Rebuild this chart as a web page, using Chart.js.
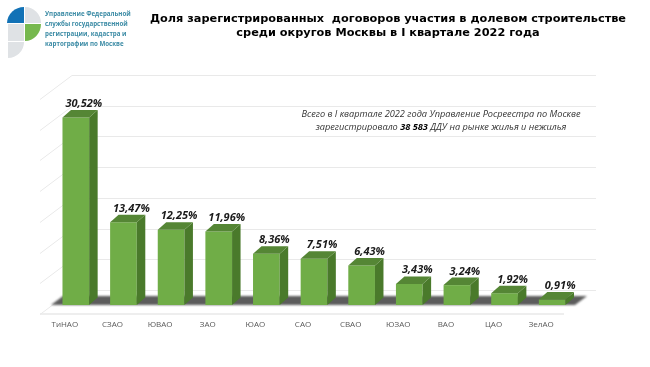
<!DOCTYPE html>
<html lang="ru">
<head>
  <meta charset="UTF-8">
  <title>Доля ДДУ по округам Москвы</title>
  <script src="https://cdn.jsdelivr.net/npm/chart.js"></script>
  <style>
    html, body { margin: 0; padding: 0; background: #fff; }
    #wrap { position: relative; width: 650px; height: 367px; overflow: hidden; }
    #wrap canvas { position: absolute; left: 0; top: 0; }
    .title {
      position: absolute; left: 130px; top: 12px; width: 516px; text-align: center;
      font: bold 11.3px/14px "DejaVu Sans", sans-serif; color: #000;
    }
    .org {
      position: absolute; left: 45px; top: 9px;
      font: bold 6.2px/10px "Open Sans", sans-serif; color: #3b8ba5; white-space: nowrap;
    }
    .note {
      position: absolute; left: 280px; top: 108px; width: 322px; text-align: center;
      font: italic 9.2px/12.5px "Open Sans", sans-serif; color: #333;
    }
    .note b { color: #000; }
    .logo { position: absolute; left: 0; top: 0; }
  </style>
</head>
<body>
  <div id="wrap">
    <canvas id="chart" width="650" height="367"></canvas>

    <!-- логотип -->
    <svg class="logo" width="44" height="62">
      <path d="M24 7 A17 17 0 0 0 7 23 L24 23 Z" fill="#1272b6"/>
      <path d="M25 7 A16 16 0 0 1 41 23 L25 23 Z" fill="#dfe2e5"/>
      <rect x="8" y="24" width="16" height="17" fill="#dfe2e5"/>
      <path d="M25 24 L41 24 A16 17 0 0 1 25 41 Z" fill="#76b84e"/>
      <path d="M8 42 L24 42 A16 16 0 0 1 8 58 Z" fill="#dfe2e5"/>
    </svg>
    <div class="org">Управление Федеральной<br>службы государственной<br>регистрации, кадастра и<br>картографии по Москве</div>

    <div class="title">Доля зарегистрированных&nbsp; договоров участия в долевом строительстве<br>среди округов Москвы в I квартале 2022 года</div>
    <div class="note">Всего в I квартале 2022 года Управление Росреестра по Москве<br>зарегистрировало <b>38 583</b> ДДУ на рынке жилья и нежилья</div>
  </div>

  <script>
    const categories = ['ТиНАО', 'СЗАО', 'ЮВАО', 'ЗАО', 'ЮАО', 'САО', 'СВАО', 'ЮЗАО', 'ВАО', 'ЦАО', 'ЗелАО'];
    const shares = [30.52, 13.47, 12.25, 11.96, 8.36, 7.51, 6.43, 3.43, 3.24, 1.92, 0.91];

    // сдвиги плоскостей псевдо-3D относительно плоскости столбцов
    const backShift = { x: 20, y: -15 };
    const frontShift = { x: -12, y: 9 };
    const barDepth = { x: 8.5, y: -7.5 };

    function poly(ctx, pts, fill) {
      ctx.beginPath();
      pts.forEach((p, i) => i ? ctx.lineTo(p[0], p[1]) : ctx.moveTo(p[0], p[1]));
      ctx.closePath();
      ctx.fillStyle = fill;
      ctx.fill();
    }

    const scene3d = {
      id: 'scene3d',
      beforeDatasetsDraw(chart) {
        const { ctx, chartArea: a, scales: { y } } = chart;
        ctx.save();
        ctx.strokeStyle = '#e9e9e9';
        ctx.lineWidth = 1;
        // сетка: задняя стенка и левая стенка
        y.ticks.forEach(t => {
          const py = Math.round(y.getPixelForValue(t.value)) + 0.5;
          ctx.beginPath();
          ctx.moveTo(a.left + frontShift.x, py + frontShift.y);
          ctx.lineTo(a.left + backShift.x, py + backShift.y);
          ctx.lineTo(a.right + backShift.x, py + backShift.y);
          ctx.stroke();
        });
        // передний край пола
        const y0 = y.getPixelForValue(0);
        ctx.lineWidth = 1.5;
        ctx.beginPath();
        ctx.moveTo(a.left + frontShift.x, y0 + frontShift.y);
        ctx.lineTo(a.right + frontShift.x, y0 + frontShift.y);
        ctx.stroke();
        // тень на полу
        ctx.filter = 'blur(1px)';
        poly(ctx, [
          [a.left - 1, y0],
          [a.left + 11, y0 - 9],
          [a.right + 11, y0 - 9],
          [a.right - 1, y0]
        ], '#5c5c5c');
        ctx.restore();
      },
      afterDatasetsDraw(chart) {
        const { ctx, scales: { y } } = chart;
        const y0 = y.getPixelForValue(0);
        ctx.save();
        chart.getDatasetMeta(0).data.forEach((bar, i) => {
          const l = bar.x - bar.width / 2, r = bar.x + bar.width / 2;
          const d = barDepth;
          poly(ctx, [[r, bar.y], [r + d.x, bar.y + d.y], [r + d.x, y0 + d.y], [r, y0]], '#4a7a2b');
          poly(ctx, [[l, bar.y], [l + d.x, bar.y + d.y], [r + d.x, bar.y + d.y], [r, bar.y]], '#558635');
          ctx.font = 'italic bold 11px "Open Sans", sans-serif';
          ctx.fillStyle = '#1a1a1a';
          ctx.textAlign = 'center';
          ctx.textBaseline = 'alphabetic';
          ctx.fillText(shares[i].toFixed(2).replace('.', ',') + '%', bar.x + 8, bar.y + d.y - 3);
        });
        ctx.restore();
      }
    };

    new Chart(document.getElementById('chart').getContext('2d'), {
      type: 'bar',
      data: {
        labels: categories,
        datasets: [{
          data: shares,
          backgroundColor: '#70ad47',
          borderWidth: 0,
          barPercentage: 0.56,
          categoryPercentage: 1
        }]
      },
      options: {
        responsive: false,
        animation: false,
        layout: { padding: { left: 52, right: 74, top: 90, bottom: 30 } },
        plugins: { legend: { display: false }, tooltip: { enabled: false } },
        scales: {
          x: {
            afterFit(s) { s.height = 32; },
            border: { display: false },
            grid: { display: false },
            ticks: {
              color: '#595959',
              font: { family: '"Open Sans", sans-serif', size: 8 },
              labelOffset: -11,
              padding: 7,
              maxRotation: 0,
              autoSkip: false
            }
          },
          y: {
            display: false,
            min: 0,
            max: 35,
            ticks: { stepSize: 5 }
          }
        }
      },
      plugins: [scene3d]
    });
  </script>
</body>
</html>
